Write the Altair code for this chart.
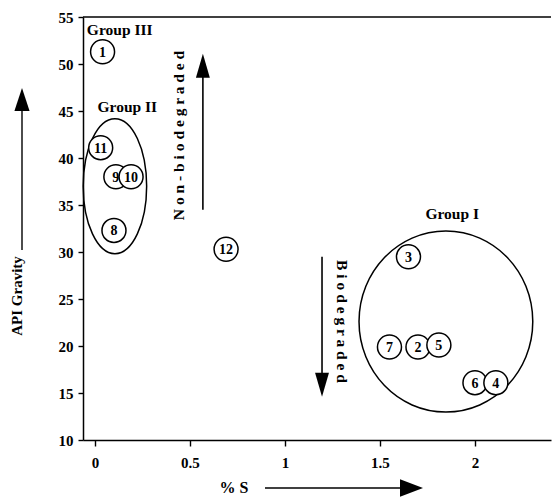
import altair as alt
import pandas as pd

# --- data ---
labels = ["1", "11", "9", "10", "8", "12", "3", "7", "2", "5", "6", "4"]
sulfur = [0.04, 0.03, 0.11, 0.19, 0.10, 0.69, 1.65, 1.55, 1.70, 1.81, 2.00, 2.11]
api = [51.3, 41.1, 38.0, 38.0, 32.3, 30.3, 29.5, 19.9, 19.9, 20.1, 16.1, 16.1]

group_names = ["Group III", "Group II", "Group I"]
group_label_x = [0.13, 0.17, 1.88]
group_label_y = [53.6, 45.4, 34.0]

x_ticks = [0, 0.5, 1, 1.5, 2]
y_ticks = [10, 15, 20, 25, 30, 35, 40, 45, 50, 55]

FONT = "Liberation Serif"
W, H = 468, 423
XDOM = [-0.063, -0.063 + W / 190.0]
YDOM = [10, 55]

pts = pd.DataFrame({"label": labels, "S": sulfur, "API": api, "order": range(len(labels))})
grp = pd.DataFrame({"name": group_names, "x": group_label_x, "y": group_label_y})

xs = alt.Scale(domain=XDOM, nice=False, zero=False)
ys = alt.Scale(domain=YDOM, nice=False, zero=False)

xaxis = alt.Axis(values=x_ticks, labelExpr="'' + datum.value", title=None, grid=False,
                 tickSize=6, labelPadding=9)
yaxis = alt.Axis(values=y_ticks, format="d", title=None, grid=False,
                 tickSize=5, labelPadding=5)

one = pd.DataFrame({"k": [0]})

# circles with numbers
circles = alt.Chart(pts).mark_point(shape="circle", size=576, filled=True, fill="white",
                                    stroke="black", strokeWidth=1.5, opacity=1).encode(
    x=alt.X("S:Q", scale=xs, axis=xaxis),
    y=alt.Y("API:Q", scale=ys, axis=yaxis),
    order=alt.Order("order:Q"),
)
nums = alt.Chart(pts).mark_text(font=FONT, fontWeight="bold", fontSize=14, color="black",
                                baseline="middle", dy=1).encode(
    x="S:Q", y="API:Q", text="label:N")

# group outlines
ell_df = pd.DataFrame({"x": [0.105], "y": [37.0]})
ellipse2 = alt.Chart(ell_df).mark_point(
    shape="M -0.47 0 A 0.47 1 0 1 0 0.47 0 A 0.47 1 0 1 0 -0.47 0 Z",
    size=135 * 135, filled=False, stroke="black", strokeWidth=1.5, opacity=1).encode(
    x="x:Q", y="y:Q")
c1_df = pd.DataFrame({"x": [1.847], "y": [22.6]})
ellipse1 = alt.Chart(c1_df).mark_point(
    shape="M -0.96 0 A 0.96 1 0 1 0 0.96 0 A 0.96 1 0 1 0 -0.96 0 Z",
    size=181 * 181, filled=False, stroke="black", strokeWidth=1.5, opacity=1).encode(
    x="x:Q", y="y:Q")

glabels = alt.Chart(grp).mark_text(font=FONT, fontWeight="bold", fontSize=15.5, color="black").encode(
    x="x:Q", y="y:Q", text="name:N")

# top frame line
top = alt.Chart(one).mark_rule(color="black", strokeWidth=1.5).encode(
    x=alt.value(0), x2=alt.value(W), y=alt.value(0))

# in-plot arrows
up_line = alt.Chart(pd.DataFrame({"x": [0.568], "y": [34.5], "y2": [49.0]})).mark_rule(
    color="black", strokeWidth=1.6).encode(x="x:Q", y="y:Q", y2="y2:Q")
up_head = alt.Chart(pd.DataFrame({"x": [0.568], "y": [51.1]})).mark_point(
    shape="M0,0 L-0.29,1 L0.29,1 Z", size=48 * 48, filled=True, color="black", opacity=1).encode(
    x="x:Q", y="y:Q")
nonbio = alt.Chart(pd.DataFrame({"x": [0.44], "y": [42.4], "t": ["N o n - b i o d e g r a d e d"]})).mark_text(
    font=FONT, fontWeight="bold", fontSize=15.5, angle=270, color="black", baseline="middle").encode(
    x="x:Q", y="y:Q", text="t:N")

down_line = alt.Chart(pd.DataFrame({"x": [1.195], "y": [29.5], "y2": [17.0]})).mark_rule(
    color="black", strokeWidth=1.6).encode(x="x:Q", y="y:Q", y2="y2:Q")
down_head = alt.Chart(pd.DataFrame({"x": [1.195], "y": [14.6]})).mark_point(
    shape="M0,0 L-0.29,-1 L0.29,-1 Z", size=48 * 48, filled=True, color="black", opacity=1).encode(
    x="x:Q", y="y:Q")
bio = alt.Chart(pd.DataFrame({"x": [1.30], "y": [22.6], "t": ["B i o d e g r a d e d"]})).mark_text(
    font=FONT, fontWeight="bold", fontSize=15.5, angle=90, color="black", baseline="middle").encode(
    x="x:Q", y="y:Q", text="t:N")

# axis titles with arrows (outside the plot area)
ytitle = alt.Chart(one).mark_text(text="API Gravity", font=FONT, fontWeight="bold", fontSize=15,
                                  angle=270, color="black", baseline="middle").encode(
    x=alt.value(-66), y=alt.value(279))
yarrow = alt.Chart(one).mark_rule(color="black", strokeWidth=1.4).encode(
    x=alt.value(-61), y=alt.value(233), y2=alt.value(90))
yhead = alt.Chart(one).mark_point(shape="M0,0 L-0.33,1 L0.33,1 Z", size=46 * 46, filled=True,
                                  color="black", opacity=1).encode(
    x=alt.value(-61), y=alt.value(71))

xtitle = alt.Chart(one).mark_text(text="% S", font=FONT, fontWeight="bold", fontSize=16,
                                  color="black", baseline="middle").encode(
    x=alt.value(151), y=alt.value(471))
xarrow = alt.Chart(one).mark_rule(color="black", strokeWidth=1.4).encode(
    x=alt.value(182), x2=alt.value(322), y=alt.value(471))
xhead = alt.Chart(one).mark_point(shape="M0,0 L-1,-0.38 L-1,0.38 Z", size=46 * 46, filled=True,
                                  color="black", opacity=1).encode(
    x=alt.value(340), y=alt.value(471))

chart = alt.layer(
    top, ellipse2, ellipse1, circles, nums, glabels,
    up_line, up_head, nonbio, down_line, down_head, bio,
    ytitle, yarrow, yhead, xtitle, xarrow, xhead,
).properties(
    width=W, height=H,
    autosize=alt.AutoSizeParams(type="none"),
    padding={"left": 75, "top": 9, "right": 1, "bottom": 57},
    background="white",
).configure_view(stroke=None).configure_axis(
    domainColor="black", domainWidth=1.5, tickColor="black", tickWidth=1.4,
    labelFont=FONT, labelFontWeight="bold", labelFontSize=15, labelColor="black",
)

chart.save("out.html", embed_options={"renderer": "svg", "actions": False})
